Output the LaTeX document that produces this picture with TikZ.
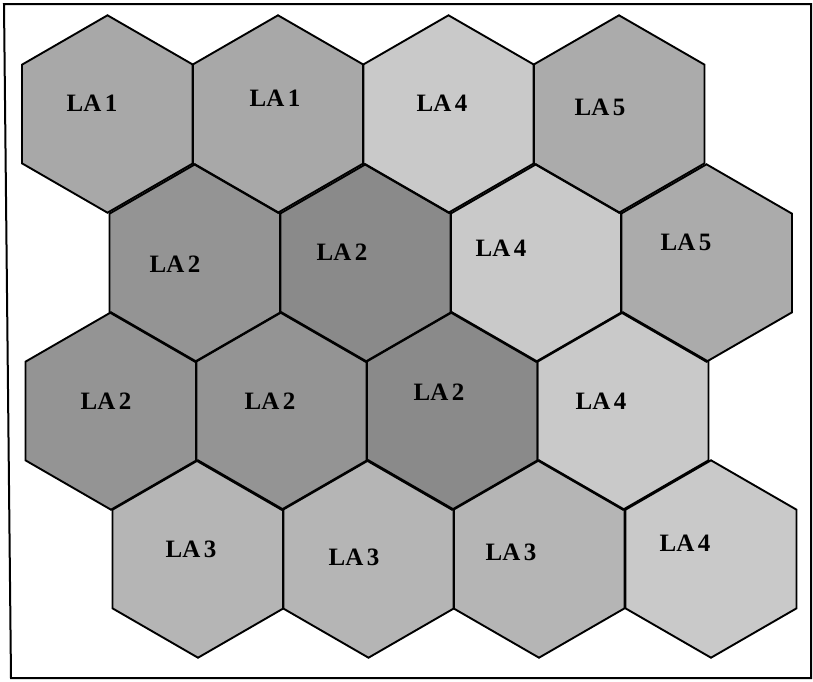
\documentclass[tikz,border=0pt]{standalone}
\usepackage{fontspec}
\setmainfont{Liberation Serif}
\usetikzlibrary{shapes.geometric}
\definecolor{laone}{gray}{0.66}
\definecolor{latwo}{gray}{0.58}
\definecolor{latwod}{gray}{0.54}
\definecolor{lathree}{gray}{0.71}
\definecolor{lafour}{gray}{0.79}
\definecolor{lafive}{gray}{0.67}
\newcommand{\lalab}[1]{LA\hspace{0.14em}#1}
\begin{document}
\begin{tikzpicture}[x=1pt,y=-1pt,
  hexcell/.style={regular polygon, regular polygon sides=6, shape border rotate=30,
    minimum size=197.4pt, inner sep=0pt, outer sep=0pt},
  hexedge/.style={draw=black, line width=1.9pt, line join=miter},
  latext/.style={font=\bfseries\fontsize{25}{25}\selectfont, inner sep=0pt}]
\useasboundingbox (0,0) rectangle (813,681);
\fill[white] (0,0) rectangle (813,681);
% row 1
\node[hexcell, fill=laone]  (h11) at (107.5,114) {};
\node[hexcell, fill=laone]  (h12) at (278,114) {};
\node[hexcell, fill=lafour] (h13) at (448.5,114) {};
\node[hexcell, fill=lafive] (h14) at (619,114) {};
% row 2
\node[hexcell, fill=latwo]  (h21) at (195,263) {};
\node[hexcell, fill=latwod] (h22) at (365.5,263) {};
\node[hexcell, fill=lafour] (h23) at (536,263) {};
\node[hexcell, fill=lafive] (h24) at (706.5,263) {};
% row 3
\node[hexcell, fill=latwo]  (h31) at (111,411) {};
\node[hexcell, fill=latwo]  (h32) at (281.5,411) {};
\node[hexcell, fill=latwod] (h33) at (452,411) {};
\node[hexcell, fill=lafour] (h34) at (623,411) {};
% row 4
\node[hexcell, fill=lathree] (h41) at (198,559) {};
\node[hexcell, fill=lathree] (h42) at (368.5,559) {};
\node[hexcell, fill=lathree] (h43) at (539,559) {};
\node[hexcell, fill=lafour]  (h44) at (711,559) {};
% outlines
\foreach \h in {h11,h12,h13,h14,h21,h22,h23,h24,h31,h32,h33,h34,h41,h42,h43,h44}
  \draw[hexedge] (\h.corner 1) -- (\h.corner 2) -- (\h.corner 3) -- (\h.corner 4)
    -- (\h.corner 5) -- (\h.corner 6) -- cycle;
% labels
\node[latext] (l11) at (92,103) {\lalab{1}};
\node[latext] (l12) at (275,98) {\lalab{1}};
\node[latext] (l13) at (442,103) {\lalab{4}};
\node[latext] (l14) at (600,107) {\lalab{5}};
\node[latext] (l21) at (175,264) {\lalab{2}};
\node[latext] (l22) at (342,252) {\lalab{2}};
\node[latext] (l23) at (501,248) {\lalab{4}};
\node[latext] (l24) at (686,242) {\lalab{5}};
\node[latext] (l31) at (106,401) {\lalab{2}};
\node[latext] (l32) at (270,401) {\lalab{2}};
\node[latext] (l33) at (439,392) {\lalab{2}};
\node[latext] (l34) at (601,401) {\lalab{4}};
\node[latext] (l41) at (191,549) {\lalab{3}};
\node[latext] (l42) at (354,557) {\lalab{3}};
\node[latext] (l43) at (511,552) {\lalab{3}};
\node[latext] (l44) at (685,543) {\lalab{4}};
% frame
\draw[line width=2pt] (4,4) -- (811,4) -- (811,678) -- (11,678) -- cycle;
\end{tikzpicture}
\end{document}
